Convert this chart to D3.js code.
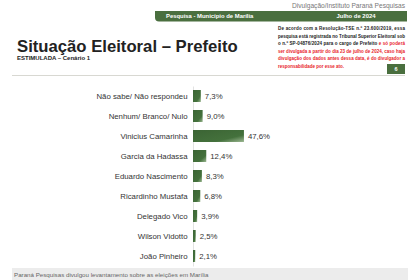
<!DOCTYPE html>
<html>
<head>
<meta charset="utf-8">
<script src="https://cdn.jsdelivr.net/npm/d3@7"></script>
<style>
  body { margin: 0; background: #fff; }
  svg { display: block; font-family: Arial, "Liberation Sans", sans-serif; }
</style>
</head>
<body>
<svg id="chart" width="420" height="280"></svg>
<script>
const categories = [
  'Não sabe/ Não respondeu',
  'Nenhum/ Branco/ Nulo',
  'Vinicius Camarinha',
  'Garcia da Hadassa',
  'Eduardo Nascimento',
  'Ricardinho Mustafa',
  'Delegado Vico',
  'Wilson Vidotto',
  'João Pinheiro'
];
const values = [7.3, 9.0, 47.6, 12.4, 8.3, 6.8, 3.9, 2.5, 2.1];
const valueLabels = ['7,3%', '9,0%', '47,6%', '12,4%', '8,3%', '6,8%', '3,9%', '2,5%', '2,1%'];

const disclaimer = [
  [['De acordo com a Resolução-TSE n.º 23.600/2019, essa', '#222']],
  [['pesquisa está registrada no Tribunal Superior Eleitoral sob', '#222']],
  [['o n.º SP-04876/2024 para o cargo de Prefeito ', '#222'], ['e só poderá', '#e8232a']],
  [['ser divulgada a partir do dia 23 de julho de 2024, caso haja', '#e8232a']],
  [['divulgação dos dados antes dessa data, é do divulgador a', '#e8232a']],
  [['responsabilidade por esse ato.', '#e8232a']]
];

const svg = d3.select('#chart');
const green = '#4a6f3f';

// header
svg.append('text')
  .attr('x', 405).attr('y', 7.5)
  .attr('text-anchor', 'end')
  .attr('font-size', 6.6).attr('fill', '#777')
  .text('Divulgação/Instituto Paraná Pesquisas');

svg.append('path')
  .attr('d', 'M155,11 H407 V21.5 H159 Q155,21.5 155,17.5 Z')
  .attr('fill', green);
svg.append('text')
  .attr('x', 166).attr('y', 18.3)
  .attr('font-size', 5.9).attr('font-weight', 'bold').attr('fill', '#fff')
  .text('Pesquisa - Município de Marília');
svg.append('text')
  .attr('x', 356).attr('y', 18.3)
  .attr('text-anchor', 'middle')
  .attr('font-size', 5.9).attr('font-weight', 'bold').attr('fill', '#fff')
  .text('Julho de 2024');

// disclaimer
const disc = svg.append('g');
disclaimer.forEach((parts, i) => {
  const t = disc.append('text')
    .attr('x', 278).attr('y', 30 + i * 7.6)
    .attr('font-size', 4.5).attr('font-weight', 'bold');
  if (i < disclaimer.length - 1) {
    t.attr('textLength', 127).attr('lengthAdjust', 'spacing');
  }
  parts.forEach(p => t.append('tspan').attr('fill', p[1]).text(p[0]));
});
svg.append('rect')
  .attr('x', 387).attr('y', 64).attr('width', 18).attr('height', 10)
  .attr('fill', green);
svg.append('text')
  .attr('x', 396).attr('y', 71.2)
  .attr('text-anchor', 'middle')
  .attr('font-size', 5.5).attr('font-weight', 'bold').attr('fill', '#fff')
  .text('6');

// title
svg.append('text')
  .attr('x', 17).attr('y', 52)
  .attr('font-size', 16.7).attr('font-weight', 'bold').attr('fill', '#222')
  .text('Situação Eleitoral – Prefeito');
svg.append('text')
  .attr('x', 17).attr('y', 60)
  .attr('font-size', 6).attr('font-weight', 'bold').attr('fill', '#222')
  .text('ESTIMULADA – Cenário 1');

svg.append('line')
  .attr('x1', 12).attr('x2', 405).attr('y1', 75.5).attr('y2', 75.5)
  .attr('stroke', '#d8d8d2').attr('stroke-width', 1.2);

// gradient for bars
const grad = svg.append('defs').append('linearGradient')
  .attr('id', 'barGrad')
  .attr('x1', 0).attr('y1', 0).attr('x2', 1).attr('y2', 1);
grad.append('stop').attr('offset', '0%').attr('stop-color', '#3b6434');
grad.append('stop').attr('offset', '70%').attr('stop-color', '#44713c');
grad.append('stop').attr('offset', '100%').attr('stop-color', '#9db893');

// scales
const x = d3.scaleLinear().domain([0, 100]).range([193, 300]);
const y = d3.scaleBand().domain(categories).range([86, 266])
  .paddingInner(0.4).paddingOuter(0.2);

const axis = svg.append('g')
  .attr('transform', `translate(${x(0)},0)`)
  .call(d3.axisLeft(y).tickSize(0).tickPadding(5.5));
axis.select('.domain').attr('stroke', '#e2e2e2');
axis.selectAll('text')
  .attr('font-size', 7.8).attr('fill', '#333')
  .attr('font-family', 'Arial, "Liberation Sans", sans-serif');

svg.append('g').selectAll('rect')
  .data(values)
  .join('rect')
  .attr('x', x(0))
  .attr('y', (d, i) => y(categories[i]))
  .attr('width', d => x(d) - x(0))
  .attr('height', y.bandwidth())
  .attr('fill', 'url(#barGrad)');

svg.append('g').selectAll('text')
  .data(values)
  .join('text')
  .attr('x', d => x(d) + 4)
  .attr('y', (d, i) => y(categories[i]) + y.bandwidth() / 2)
  .attr('dy', '0.35em')
  .attr('font-size', 7.8).attr('fill', '#333')
  .text((d, i) => valueLabels[i]);

// footer
svg.append('rect')
  .attr('x', 12).attr('y', 268).attr('width', 396).attr('height', 12)
  .attr('fill', '#ececec');
svg.append('text')
  .attr('x', 14).attr('y', 276.5)
  .attr('font-size', 6.2).attr('fill', '#666')
  .text('Paraná Pesquisas divulgou levantamento sobre as eleições em Marília');
</script>
</body>
</html>
